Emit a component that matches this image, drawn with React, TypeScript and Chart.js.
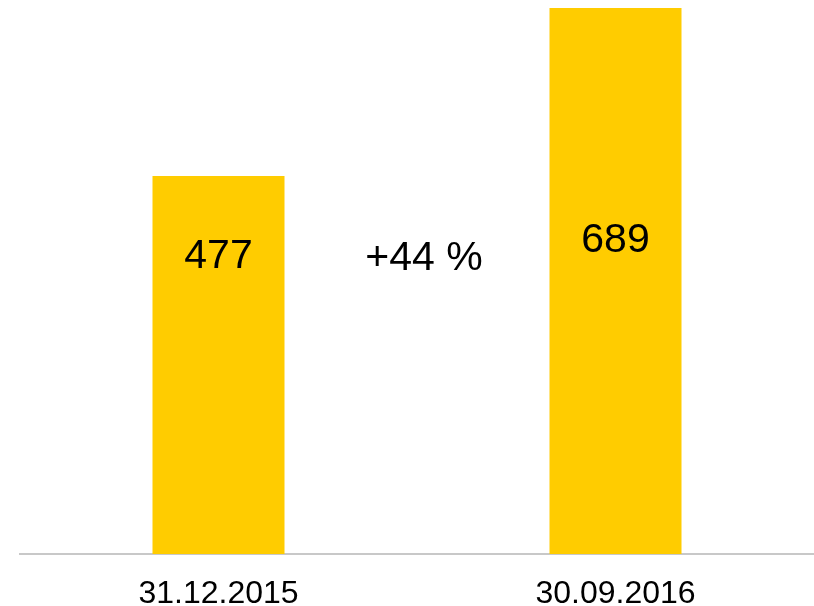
import React, { useEffect, useRef } from "react";
import { Chart, registerables } from "chart.js";

Chart.register(...registerables);

const categories = ["31.12.2015", "30.09.2016"];
const values = [477, 689];
const valueLabels = ["477", "689"];
const changeLabel = "+44 %";

const FONT = "'Liberation Sans', Arial, sans-serif";

const labelPlugin = {
  id: "valueLabels",
  afterDatasetsDraw(chart: any) {
    const { ctx } = chart;
    const meta = chart.getDatasetMeta(0);
    const yScale = chart.scales.y;
    const labelVals = [375, 396];
    ctx.save();
    ctx.fillStyle = "#000000";
    ctx.font = `41px ${FONT}`;
    ctx.textAlign = "center";
    ctx.textBaseline = "middle";
    meta.data.forEach((bar: any, i: number) => {
      ctx.fillText(valueLabels[i], bar.x, yScale.getPixelForValue(labelVals[i]));
    });
    const midX = (meta.data[0].x + meta.data[1].x) / 2 + 7;
    ctx.fillText(changeLabel, midX, yScale.getPixelForValue(373));
    ctx.restore();
  },
};

export default function App() {
  const ref = useRef<HTMLCanvasElement>(null);
  useEffect(() => {
    document.body.style.margin = "0";
    const chart = new Chart(ref.current!, {
      type: "bar",
      data: {
        labels: categories,
        datasets: [
          {
            data: values,
            backgroundColor: "#FFCC00",
            categoryPercentage: 1,
            barPercentage: 0.3325,
          },
        ],
      },
      options: {
        animation: false,
        responsive: false,
        maintainAspectRatio: false,
        layout: { padding: { left: 20, right: 0, top: 8, bottom: 0 } },
        plugins: { legend: { display: false }, tooltip: { enabled: false } },
        scales: {
          x: {
            grid: { display: false, drawTicks: false },
            border: { display: true, color: "#c8c8c8", width: 2 },
            ticks: {
              color: "#000000",
              padding: 24,
              font: { family: FONT, size: 32, lineHeight: 1 },
            },
          },
          y: {
            display: false,
            min: 0,
            max: 689,
          },
        },
      },
      plugins: [labelPlugin],
    });
    return () => chart.destroy();
  }, []);
  return (
    <div style={{ width: 814, height: 606, overflow: "hidden" }}>
      <canvas ref={ref} width={814} height={634} style={{ display: "block" }} />
    </div>
  );
}
